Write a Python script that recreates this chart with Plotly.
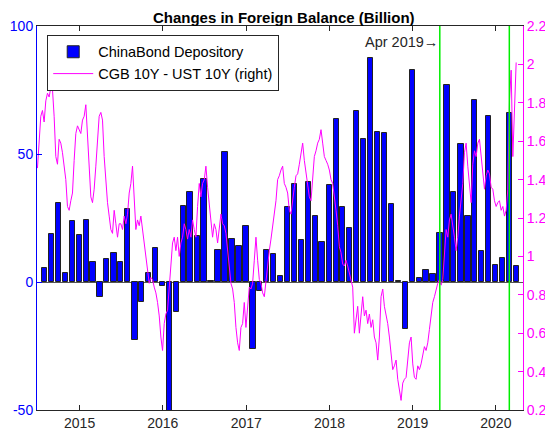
import pandas as pd
import plotly.graph_objects as go

# ---- data ----
bar_start = "2014-07-31"  # month-end dates, monthly
flow_values = [
    5.3, 18.6, 30.9, 3.5, 24.0, 18.2, 24.3, 7.8, -6.0, 9.0, 11.2, 7.9,
    28.6, -22.8, -7.9, 3.5, 13.2, -1.7, -55.0, -11.8, 29.6, 35.0, 18.1, 40.2,
    0.3, 12.6, 50.9, 16.9, 13.9, 21.9, -26.0, -3.6, 12.5, 10.9, 2.5, 29.3,
    38.3, 16.3, 39.0, 25.7, 15.5, 37.9, 63.7, 29.3, 21.0, 66.9, 55.9, 87.4,
    58.5, 58.2, 30.5, 0.3, -18.4, 82.9, 1.4, 4.6, 3.0, 19.1, 77.1, 35.0,
    53.9, 25.7, 71.2, 12.0, 64.7, 6.6, 9.2, 66.0, 6.4,
]

spread_start = "2014-06-30"
spread_end = "2020-03-30"
spread_values = [
    1.46, 1.59, 1.73, 1.76, 1.70, 1.81, 1.85, 1.83, 1.88, 1.87,
    1.73, 1.52, 1.48, 1.61, 1.59, 1.54, 1.47, 1.40, 1.26, 1.24,
    1.29, 1.33, 1.50, 1.64, 1.68, 1.66, 1.64, 1.71, 1.73, 1.79,
    1.62, 1.43, 1.31, 1.28, 1.35, 1.47, 1.61, 1.73, 1.75, 1.71,
    1.52, 1.38, 1.28, 1.21, 1.14, 1.12, 1.24, 1.17, 1.10, 1.17,
    1.17, 1.14, 1.21, 1.17, 1.22, 1.33, 1.38, 1.47, 1.33, 1.14,
    1.19, 1.16, 1.21, 1.14, 1.05, 0.98, 0.91, 0.86, 0.89, 0.88,
    0.84, 0.81, 0.76, 0.69, 0.58, 0.51, 0.65, 0.70, 0.72, 0.83,
    0.98, 1.07, 1.10, 1.03, 1.10, 1.00, 1.07, 1.10, 1.17, 1.14,
    1.09, 1.14, 1.10, 1.19, 1.14,
    1.10, 1.26, 1.38, 1.31, 1.38, 1.40, 1.47, 1.36, 1.26, 1.19,
    1.10, 1.17, 1.14, 1.07, 1.16, 1.22, 1.17, 1.16, 1.12, 1.03,
    0.93, 0.86, 0.83, 0.76, 0.63, 0.55, 0.51, 0.63, 0.65, 0.76,
    0.63, 0.76, 0.84, 0.83, 0.86, 0.98, 1.10, 0.98, 0.88, 0.86,
    0.81, 0.79, 0.88, 0.96, 1.03, 1.09, 1.16, 1.21, 1.29, 1.40,
    1.42, 1.45, 1.47, 1.38, 1.36, 1.33, 1.24, 1.22, 1.31, 1.36,
    1.42, 1.43, 1.48, 1.54, 1.59, 1.50, 1.43, 1.38, 1.31, 1.29,
    1.40, 1.52, 1.55, 1.59, 1.61, 1.66, 1.59, 1.52, 1.50, 1.48,
    1.45, 1.40, 1.38, 1.29, 1.24, 1.16, 1.05, 1.02, 0.96, 0.95,
    0.98, 0.95, 0.91, 0.88, 0.84, 0.60, 0.69,
    0.74, 0.60, 0.70, 0.79, 0.69, 0.72, 0.65, 0.70, 0.63, 0.67,
    0.58, 0.55, 0.46, 0.58, 0.79, 0.83, 0.74, 0.70, 0.65, 0.58,
    0.51, 0.41, 0.43, 0.46, 0.36, 0.29, 0.25, 0.34, 0.36, 0.37,
    0.48, 0.55, 0.58, 0.44, 0.37, 0.36, 0.43, 0.41, 0.44, 0.48,
    0.53, 0.51, 0.55, 0.62, 0.70, 0.76, 0.79, 0.83, 0.86, 0.88,
    0.85, 0.88, 1.00, 1.14, 1.10, 1.19, 1.22, 1.17, 1.10, 1.03,
    1.10, 1.21, 1.28, 1.38, 1.54, 1.59, 1.47, 1.35, 1.28, 1.48,
    1.55, 1.52, 1.59, 1.61, 1.52, 1.42, 1.35, 1.42, 1.45, 1.43,
    1.36, 1.35, 1.29, 1.26, 1.28, 1.29, 1.24, 1.26, 1.21, 1.24,
    1.35, 1.81, 1.97, 1.52, 1.81, 2.01,
]

marker_dates = ["2019-04-30", "2020-02-29"]
marker_label = "Apr 2019\u2192"

year_ticks = ["2015-01-01", "2016-01-01", "2017-01-01", "2018-01-01", "2019-01-01", "2020-01-01"]
year_labels = ["2015", "2016", "2017", "2018", "2019", "2020"]
left_ticks = [-50, 0, 50, 100]
left_labels = ["-50", "0", "50", "100"]
right_ticks = [0.2, 0.4, 0.6, 0.8, 1.0, 1.2, 1.4, 1.6, 1.8, 2.0, 2.2]
right_labels = ["0.2", "0.4", "0.6", "0.8", "1", "1.2", "1.4", "1.6", "1.8", "2", "2.2"]

bar_dates = pd.date_range(bar_start, periods=len(flow_values), freq=pd.offsets.MonthEnd())
spread_dates = pd.date_range(spread_start, spread_end, periods=len(spread_values))

FONT = "Liberation Sans, Arial, Helvetica, sans-serif"
BLUE = "#0000ff"
MAG = "#ff00ff"
GREEN = "#00ee00"
AX = "#262626"

fig = go.Figure()
fig.add_trace(go.Bar(
    x=bar_dates, y=flow_values, name="ChinaBond Depository",
    marker=dict(color=BLUE, line=dict(color="#222222", width=1)),
    width=24 * 86400000, yaxis="y",
))
fig.add_trace(go.Scatter(
    x=spread_dates, y=spread_values, name="CGB 10Y - UST 10Y (right)",
    mode="lines", line=dict(color=MAG, width=1), yaxis="y2",
))

for d in marker_dates:
    fig.add_shape(type="line", xref="x", yref="paper", x0=d, x1=d, y0=0, y1=1,
                  line=dict(color=GREEN, width=1.5), layer="above")

fig.add_annotation(x=marker_dates[0], y=0.958, xref="x", yref="paper",
                   text=marker_label, showarrow=False, xanchor="right", yanchor="middle",
                   font=dict(size=14.5, color=AX, family=FONT))

fig.update_layout(
    template="none",
    width=545, height=425,
    margin=dict(l=29, r=30, t=18, b=23, autoexpand=False),
    paper_bgcolor="white", plot_bgcolor="white",
    font=dict(family=FONT, size=14, color=AX),
    title=dict(text="<b>Changes in Foreign Balance (Billion)</b>", x=0.506, xanchor="center",
               y=0.977, yanchor="middle",
               font=dict(size=15, color="black", family=FONT)),
    bargap=0,
    showlegend=True,
    legend=dict(x=0.021, y=0.977, xanchor="left", yanchor="top",
                bgcolor="white", bordercolor=AX, borderwidth=1,
                font=dict(size=14.5, color="black", family=FONT),
                itemwidth=40, tracegroupgap=0),
    xaxis=dict(
        type="date", range=["2014-06-28", "2020-04-29"], automargin=False,
        tickvals=year_ticks, ticktext=year_labels,
        ticks="inside", ticklen=5, tickcolor=AX,
        showline=True, linecolor=AX, linewidth=1, mirror="ticks",
        showgrid=False, zeroline=False,
        tickfont=dict(size=14, color=AX),
    ),
    yaxis=dict(
        range=[-50, 100], tickvals=left_ticks, ticktext=left_labels, automargin=False,
        ticks="inside", ticklen=5, tickcolor=BLUE,
        showline=True, linecolor=BLUE, linewidth=1,
        showgrid=False, zeroline=True, zerolinecolor="#555555", zerolinewidth=1,
        tickfont=dict(size=14, color=BLUE),
    ),
    yaxis2=dict(
        range=[0.2, 2.2], tickvals=right_ticks, ticktext=right_labels, automargin=False,
        overlaying="y", side="right",
        ticks="inside", ticklen=5, tickcolor=MAG,
        showline=True, linecolor=MAG, linewidth=1,
        showgrid=False, zeroline=False,
        tickfont=dict(size=14, color=MAG),
    ),
)

fig.write_html("out.html")
